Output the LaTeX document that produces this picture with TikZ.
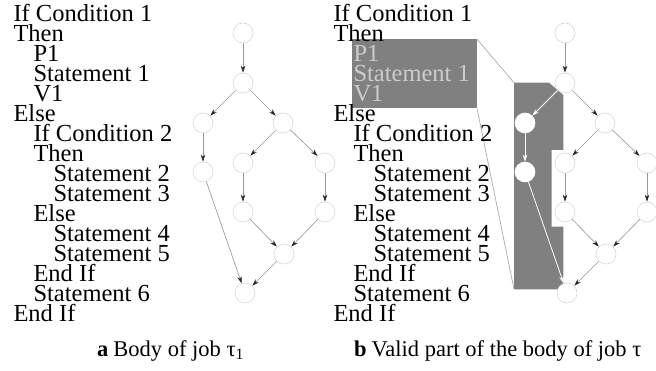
\documentclass[tikz,border=0pt]{standalone}
\usepackage{fontspec}
\setmainfont{Liberation Serif}
\usetikzlibrary{arrows.meta}
\begin{document}
\def\codelines{1/0/If Condition 1, 2/0/Then, 3/1/P1, 4/1/Statement 1, 5/1/V1, 6/0/Else, 7/1/If Condition 2, 8/1/Then, 9/2/Statement 2, 10/2/Statement 3, 11/1/Else, 12/2/Statement 4, 13/2/Statement 5, 14/1/End If, 15/1/Statement 6, 16/0/End If}
\begin{tikzpicture}[x=1pt,y=-1pt,
  code/.style={font=\fontsize{24.5}{20}\selectfont, inner sep=0pt, anchor=base west},
  captext/.style={font=\fontsize{22.5}{24}\selectfont, inner sep=0pt, anchor=base west},
  vtx/.style={circle, draw=black!15, fill=white, minimum size=20pt, inner sep=0pt, line width=0.6pt},
  vtxw/.style={vtx, draw=white},
  edge/.style={draw=black!40, line width=0.65pt, -{Stealth[length=7pt,width=4.5pt,color=black!85]}},
  wedge/.style={draw=white, line width=0.8pt, -{Stealth[length=7pt,width=4.5pt,color=white]}},
  link/.style={draw=black!30, line width=0.8pt}]
\useasboundingbox (0,0) rectangle (656,371);
% highlight rectangle and valid-part polygon
\node[fill=black!50, inner sep=0pt, minimum width=125pt, minimum height=69pt, anchor=north west] (hl) at (351.7,39.3) {};
\coordinate (pTL) at (514,82.7);
\coordinate (pBL) at (514,289.3);
\fill[black!50] (pTL) -- (549,82.7) -- (563.3,95) -- (563.3,150) -- (551.7,150) -- (551.7,226.7) -- (563.3,226.7) -- (563.3,289.3) -- (pBL) -- cycle;
\draw[link] (hl.north east) -- (pTL);
\draw[link] (hl.south east) -- (pBL);
% code text
\foreach \i/\ind/\t in \codelines {
  \node[code] (a\i) at (13.3+20*\ind, 1.7+20*\i) {\t};
  \def\col{black}
  \ifnum\i>2 \ifnum\i<6 \def\col{black!20}\fi\fi
  \node[code, text=\col] (b\i) at (333.3+20*\ind, 1.7+20*\i) {\t};
}
% graph nodes
\foreach \n/\x/\y in {1/243/33, 2/243/83, 3/203/123, 4/283/123, 5/203/172, 6/243/163, 7/325/163, 8/243/212, 9/325/212, 10/284/254, 11/245/293} {
  \node[vtx] (n\n) at (\x,\y) {};
}
\foreach \n/\x/\y in {1/243/33, 2/243/83, 4/283/123, 6/243/163, 7/325/163, 8/243/212, 9/325/212, 10/284/254, 11/245/293} {
  \node[vtx] (m\n) at (\x+322,\y) {};
}
\node[vtxw] (m3) at (525,123) {};
\node[vtxw] (m5) at (525,172) {};
% edges
\foreach \s/\t in {1/2, 2/3, 2/4, 3/5, 4/6, 4/7, 6/8, 7/9, 8/10, 9/10, 10/11, 5/11} {
  \draw[edge] (n\s) -- (n\t);
}
\foreach \s/\t in {1/2, 2/4, 4/6, 4/7, 6/8, 7/9, 8/10, 9/10, 10/11} {
  \draw[edge] (m\s) -- (m\t);
}
\foreach \s/\t in {2/3, 3/5, 5/11} {
  \draw[wedge] (m\s) -- (m\t);
}
% captions
\node[captext] (capa) at (97,356) {\textbf{a}\hspace{5pt}Body of job τ\textsubscript{1}};
\node[captext] (capb) at (354,356) {\textbf{b}\hspace{5pt}Valid part of the body of job τ};
\end{tikzpicture}
\end{document}
